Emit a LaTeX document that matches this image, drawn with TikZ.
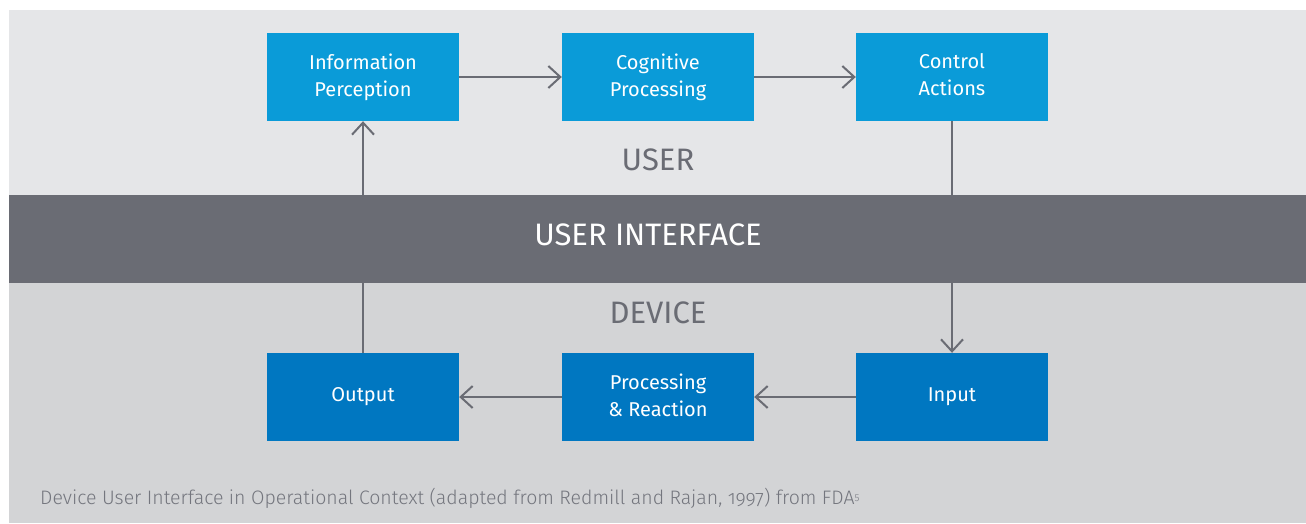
\documentclass[tikz,border=0pt]{standalone}
\usepackage{fontspec}
\setmainfont{Fira Sans}
\newfontfamily\capfont[Numbers=OldStyle]{Fira Sans Light}
\usetikzlibrary{positioning,arrows.meta,calc}
\definecolor{userbg}{HTML}{E5E6E8}
\definecolor{devbg}{HTML}{D3D4D6}
\definecolor{band}{HTML}{6A6C74}
\definecolor{ublue}{HTML}{0A9BD8}
\definecolor{dblue}{HTML}{0077C1}
\definecolor{capgray}{HTML}{74767E}

\begin{document}
\begin{tikzpicture}[x=1pt, y=-1pt,
  box/.style={fill=#1, text=white, minimum width=192pt, minimum height=88pt,
    inner sep=0pt, align=center, font=\fontsize{20}{27}\selectfont},
  zone/.style={text=band, font=\fontsize{31}{31}\selectfont},
  flow/.style={draw=band, line width=2pt, -{Straight Barb[length=12pt,width=22pt]}},
  link/.style={draw=band, line width=2pt}]
  \useasboundingbox (0,0) rectangle (1306,523);
  \fill[white] (0,0) rectangle (1306,523);
  \fill[userbg] (9,10) rectangle (1306,195);
  \fill[devbg] (9,283) rectangle (1306,523);
  \node[fill=band, minimum width=1297pt, minimum height=88pt, inner sep=0pt,
    text=white, font=\fontsize{31}{31}\selectfont] (ui) at (657.5,239) {};
  \node[text=white, font=\fontsize{31}{31}\selectfont] (uilab) at (648,235) {USER INTERFACE};
  \node[zone] (user) at (658,160) {USER};
  \node[zone] (device) at (658,313) {DEVICE};
  % user side
  \node[box=ublue] (perc) at (363,77) {Information\\Perception};
  \node[box=ublue] (cogn) at (658,77) {Cognitive\\Processing};
  \node[box=ublue] (ctrl) at (952,77) {Control\\Actions\vphantom{p}};
  % device side
  \node[box=dblue] (outp) at (363,397) {Output};
  \node[box=dblue] (proc) at (658,397) {Processing\\\& Reaction\vphantom{p}};
  \node[box=dblue] (inp) at (952,397) {Input};
  \draw[flow] (perc) -- (cogn);
  \draw[flow] (cogn) -- (ctrl);
  \draw[link] (ctrl) -- (ctrl |- ui.north);
  \draw[flow] (ctrl |- ui.south) -- (inp);
  \draw[flow] (inp) -- (proc);
  \draw[flow] (proc) -- (outp);
  \draw[link] (outp) -- (outp |- ui.south);
  \draw[flow] (perc |- ui.north) -- (perc);
  \node[anchor=base west, text=capgray, inner sep=0pt] (cap) at (40,504)
    {\capfont\fontsize{19.5}{19.5}\selectfont Device User Interface in Operational Context (adapted from Redmill and Rajan, 1997) from FDA\raisebox{4pt}{\fontsize{10}{10}\selectfont 5}};
\end{tikzpicture}
\end{document}
